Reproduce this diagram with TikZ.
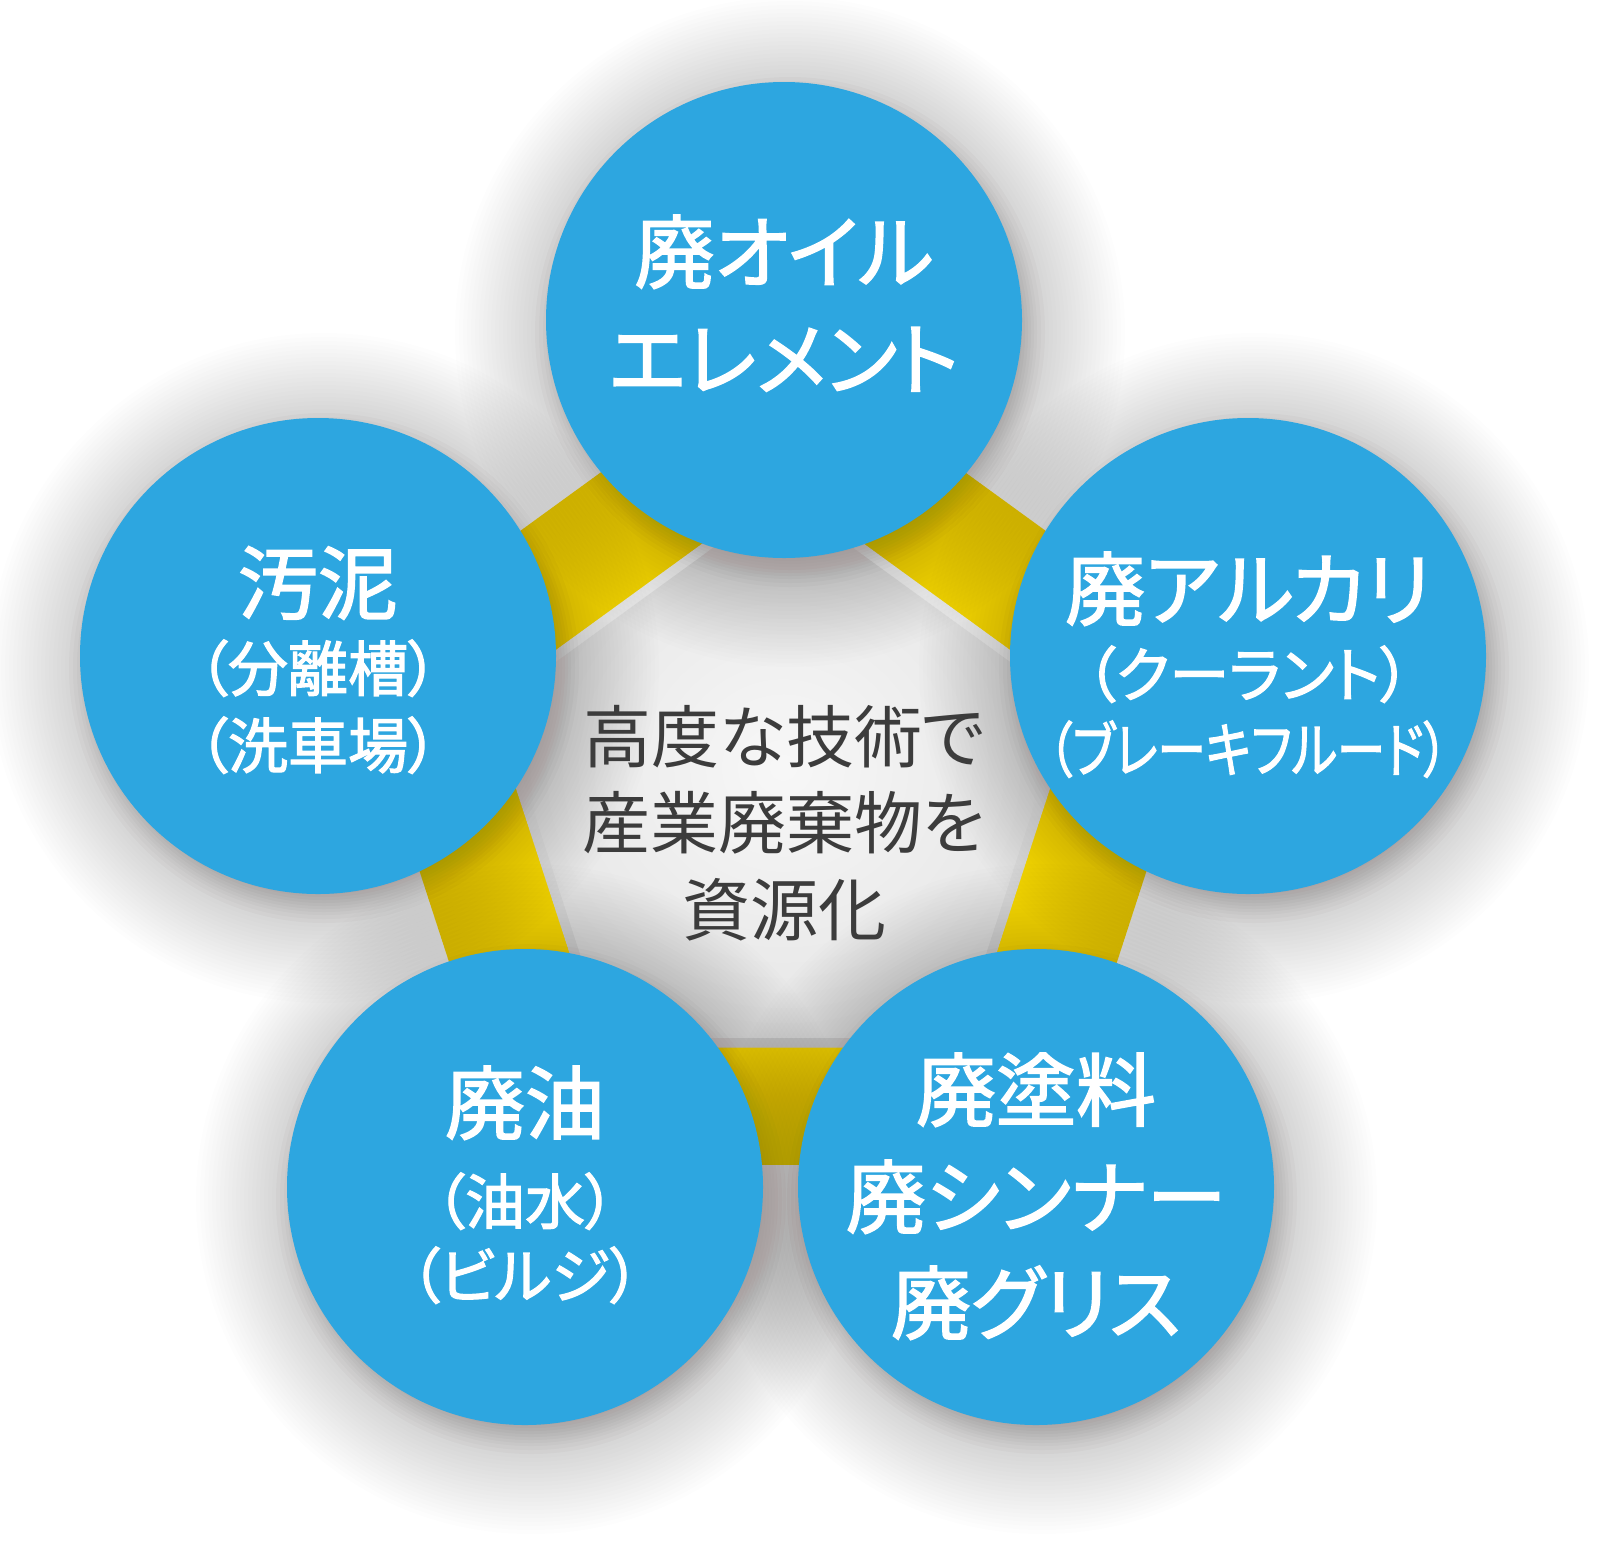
\documentclass[tikz,border=0pt]{standalone}
\usepackage{fontspec}
\newfontfamily\jpfont[RawFeature=+palt]{Noto Sans CJK JP}
\newfontfamily\jpbold[RawFeature=+palt,FakeBold=2]{Noto Sans CJK JP}
\usetikzlibrary{shapes.geometric,calc}
\definecolor{bubblec}{RGB}{45,166,224}
\definecolor{yellowc}{RGB}{255,226,0}
\definecolor{shadowc}{RGB}{50,38,38}
\definecolor{textc}{RGB}{60,60,60}
\tikzset{
  pent/.style={regular polygon, regular polygon sides=5, inner sep=0pt, outer sep=0pt, draw=none},
  bubble/.style={circle, fill=bubblec, minimum size=476pt, inner sep=0pt, outer sep=0pt},
  big/.style={text=white, inner sep=0pt, anchor=base, font=\jpbold\fontsize{80}{96}\selectfont},
  small/.style={text=white, inner sep=0pt, anchor=base, font=\jpbold\fontsize{60}{72}\selectfont},
  mid/.style={text=textc, inner sep=0pt, anchor=base, font=\jpfont\fontsize{68}{80}\selectfont},
  neardisc/.style={fill=shadowc, opacity=0.025},
  fardisc/.style={fill=shadowc, opacity=0.006},
}
\newcommand{\bubshadow}[1]{%
  \foreach \rr in {226,229,232,235,238,241,244,247,251,255}
    {\fill[neardisc] ($(#1)+(6,12)$) circle[radius=\rr pt];}%
  \foreach \rr in {259,263,...,335}
    {\fill[fardisc] ($(#1)+(6,12)$) circle[radius=\rr pt];}}
\begin{document}
\begin{tikzpicture}[x=1pt,y=-1pt]
\fill[white] (0,0) rectangle (1600,1540);
\useasboundingbox (0,0) rectangle (1600,1540);
% pentagon
\node[pent, minimum size=912pt, fill=yellowc] (outer) at (783,796) {};
\node[pent, minimum size=622pt, top color=white, bottom color=black!17] (band) at (783,796) {};
\node[pent, minimum size=598pt, inner color=white!97!black, outer color=black!10] (inner) at (783,796) {};
% centres
\coordinate (p1) at (784,320);
\coordinate (p2) at (1248,656);
\coordinate (p3) at (1036,1187);
\coordinate (p4) at (525,1187);
\coordinate (p5) at (318,656);
% shadows
\bubshadow{p1}
\bubshadow{p2}
\bubshadow{p3}
\bubshadow{p4}
\bubshadow{p5}
% circles
\node[bubble] (c1) at (p1) {};
\node[bubble] (c2) at (p2) {};
\node[bubble] (c3) at (p3) {};
\node[bubble] (c4) at (p4) {};
\node[bubble] (c5) at (p5) {};
% centre text
\node[mid] (m1) at (784,762) {高度な技術で};
\node[mid] (m2) at (784,848) {産業廃棄物を};
\node[mid] (m3) at (784,935) {資源化};
% top
\node[big] (a1) at (784,282) {廃オイル};
\node[big] (a2) at (784,389) {エレメント};
% right
\node[big] (b1) at (1248,619) {廃アルカリ};
\node[small] (b2) at (1248,697) {（クーラント）};
\node[small] (b3) at (1248,772) {\scalebox{0.81}[1]{（ブレーキフルード）}};
% bottom right
\node[big] (d1) at (1036,1120) {廃塗料};
\node[big] (d2) at (1036,1227) {廃シンナー};
\node[big] (d3) at (1036,1333) {廃グリス};
% bottom left
\node[big] (e1) at (525,1133) {廃油};
\node[small] (e2) at (525,1224) {（油水）};
\node[small] (e3) at (525,1298) {（ビルジ）};
% left
\node[big] (f1) at (318,613) {汚泥};
\node[small] (f2) at (318,691) {（分離槽）};
\node[small] (f3) at (318,768) {（洗車場）};
\end{tikzpicture}
\end{document}
